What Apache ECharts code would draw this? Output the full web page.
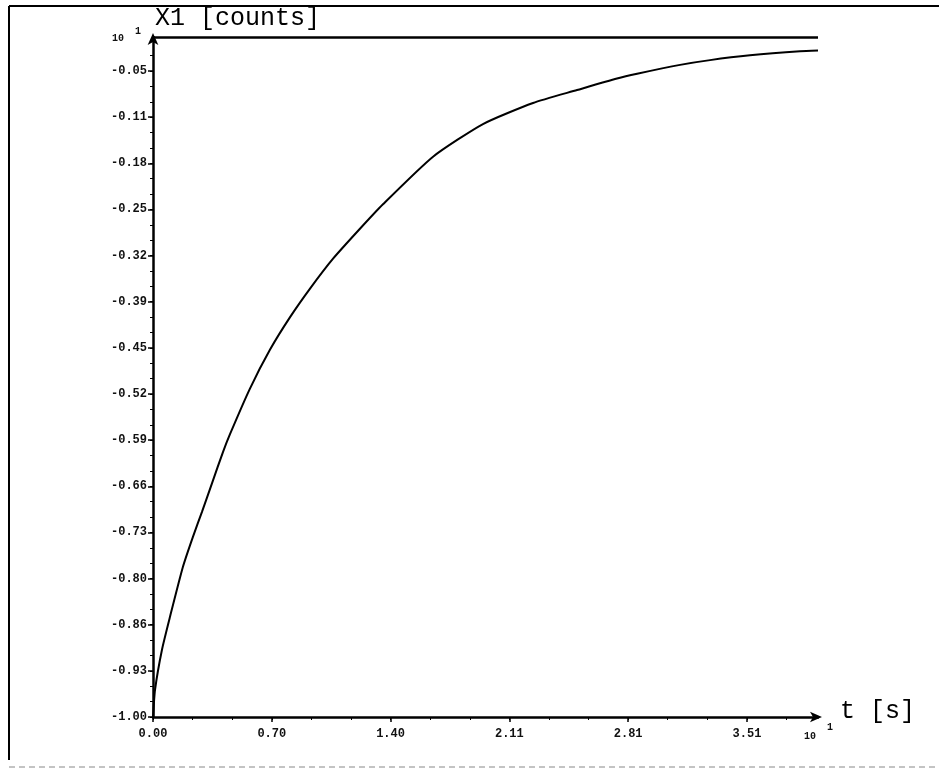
<!DOCTYPE html>
<html>
<head>
<meta charset="utf-8">
<script src="https://cdn.jsdelivr.net/npm/echarts@6/dist/echarts.min.js"></script>
<style>
  html, body { margin: 0; padding: 0; background: #fff; }
  #chart { width: 939px; height: 770px; }
</style>
</head>
<body>
<div id="chart"></div>
<script>
// Step response of X1: time samples (s) and counts
const timeValues = [0, 0.012, 0.053, 0.100, 0.177, 0.236, 0.290, 0.349, 0.414, 0.455, 0.573, 0.691, 0.810, 0.928, 1.064, 1.223, 1.359, 1.655, 1.950, 2.246, 2.506, 2.742, 2.861, 3.115, 3.292, 3.528, 3.824, 3.930];
const x1Values = [-1.000, -0.960, -0.901, -0.853, -0.779, -0.735, -0.698, -0.656, -0.610, -0.584, -0.517, -0.460, -0.412, -0.370, -0.326, -0.282, -0.246, -0.176, -0.128, -0.097, -0.078, -0.061, -0.054, -0.041, -0.034, -0.027, -0.021, -0.020];

// Axis tick labels
const xTickLabels = ['0.00', '0.70', '1.40', '2.11', '2.81', '3.51'];
const yTickLabels = ['-1.00', '-0.93', '-0.86', '-0.80', '-0.73', '-0.66', '-0.59', '-0.52', '-0.45', '-0.39', '-0.32', '-0.25', '-0.18', '-0.11', '-0.05'];

const xMin = 0, xMax = 3.93;
const yMin = -1, yMax = 0;
const xStep = 3.51 / (xTickLabels.length - 1);
const yStep = 0.95 / (yTickLabels.length - 1);

const xMajor = xTickLabels.map((_, i) => i * xStep);
const yMajor = yTickLabels.map((_, i) => yMin + i * yStep);

// minor ticks: thirds of each major step
const xMinor = [];
for (let v = 0; v <= xMax + 1e-9; v += xStep / 3) xMinor.push(v);
const yMinor = [];
for (let v = yMin; v <= yMax + 1e-9; v += yStep / 3) yMinor.push(v);

const labelFont = { fontFamily: 'Liberation Mono', fontWeight: 'bold', fontSize: 12, color: '#111' };
const bigFont = 'Liberation Mono';

const chart = echarts.init(document.getElementById('chart'), null, { renderer: 'canvas' });

chart.setOption({
  animation: false,
  backgroundColor: '#fff',
  grid: { left: 153, top: 37, right: 121, bottom: 53, containLabel: false },
  xAxis: [
    {
      type: 'value', min: xMin, max: xMax, position: 'bottom',
      axisLine: { show: true, onZero: false, lineStyle: { color: '#000', width: 2.5 }, symbol: ['none', 'arrow'], symbolSize: [8, 12], symbolOffset: [0, 4] },
      axisTick: { show: true, customValues: xMajor, length: 5, inside: false, lineStyle: { color: '#000', width: 1.5 } },
      axisLabel: {
        customValues: xMajor, margin: 11, ...labelFont,
        formatter: v => xTickLabels[Math.round(v / xStep)]
      },
      splitLine: { show: false }
    },
    {
      type: 'value', min: xMin, max: xMax, position: 'bottom',
      axisLine: { show: false, onZero: false },
      axisTick: { show: true, customValues: xMinor, length: 3, lineStyle: { color: '#000', width: 1 } },
      axisLabel: { show: false },
      splitLine: { show: false }
    }
  ],
  yAxis: [
    {
      type: 'value', min: yMin, max: yMax, position: 'left',
      axisLine: { show: true, onZero: false, lineStyle: { color: '#000', width: 2.5 }, symbol: ['none', 'arrow'], symbolSize: [8, 12], symbolOffset: [0, 4] },
      axisTick: { show: true, customValues: yMajor, length: 5, lineStyle: { color: '#000', width: 1.5 } },
      axisLabel: {
        customValues: yMajor, margin: 6, ...labelFont,
        formatter: v => yTickLabels[Math.round((v - yMin) / yStep)]
      },
      splitLine: { show: false }
    },
    {
      type: 'value', min: yMin, max: yMax, position: 'left',
      axisLine: { show: false, onZero: false },
      axisTick: { show: true, customValues: yMinor, length: 3, lineStyle: { color: '#000', width: 1 } },
      axisLabel: { show: false },
      splitLine: { show: false }
    }
  ],
  series: [
    {
      type: 'line',
      xAxisIndex: 0, yAxisIndex: 0,
      data: timeValues.map((t, i) => [t, x1Values[i]]),
      showSymbol: false,
      smooth: 0.2,
      lineStyle: { color: '#000', width: 2 },
      markLine: {
        silent: true, symbol: 'none', label: { show: false },
        lineStyle: { color: '#000', width: 2.5, type: 'solid' },
        data: [{ yAxis: yMax }]
      }
    }
  ],
  graphic: [
    // outer frame
    { type: 'line', shape: { x1: 9, y1: 6, x2: 939, y2: 6 }, style: { stroke: '#000', lineWidth: 2 } },
    { type: 'line', shape: { x1: 9, y1: 6, x2: 9, y2: 760 }, style: { stroke: '#000', lineWidth: 2 } },
    { type: 'line', shape: { x1: 9, y1: 767, x2: 939, y2: 767 }, style: { stroke: '#888', lineWidth: 1, lineDash: [6, 4] } },
    // axis names
    { type: 'text', left: 155, top: 6, style: { text: 'X1 [counts]', font: '25px "' + bigFont + '"', fill: '#000' } },
    { type: 'text', left: 840, top: 699, style: { text: 't [s]', font: '25px "' + bigFont + '"', fill: '#000' } },
    // scale exponents
    { type: 'text', left: 112, top: 33, style: { text: '10', font: 'bold 10px "Liberation Mono"', fill: '#111' } },
    { type: 'text', left: 135, top: 26, style: { text: '1', font: 'bold 10px "Liberation Mono"', fill: '#111' } },
    { type: 'text', left: 804, top: 731, style: { text: '10', font: 'bold 10px "Liberation Mono"', fill: '#111' } },
    { type: 'text', left: 827, top: 722, style: { text: '1', font: 'bold 10px "Liberation Mono"', fill: '#111' } }
  ]
});
</script>
</body>
</html>
